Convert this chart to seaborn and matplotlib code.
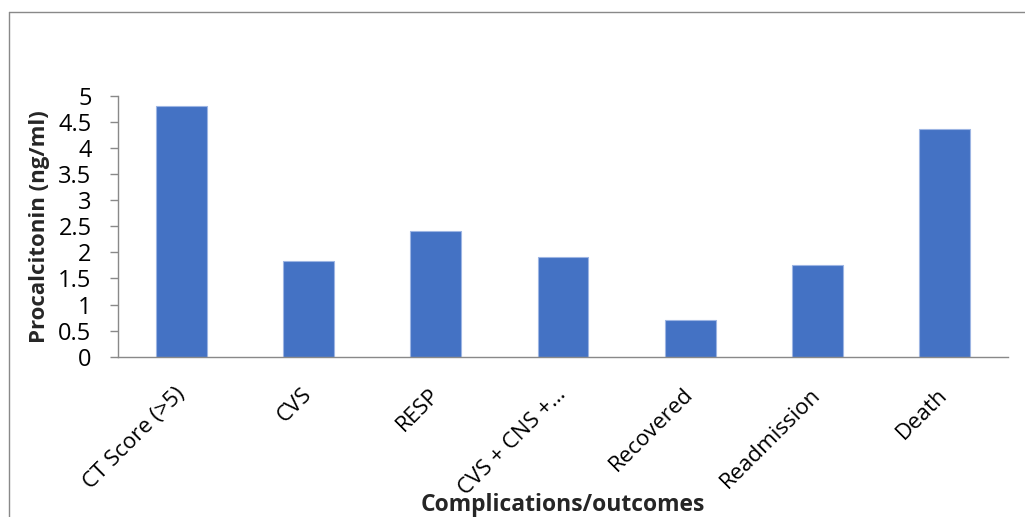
import numpy as np
import matplotlib
matplotlib.use("Agg")
import matplotlib.pyplot as plt
import seaborn as sns
from matplotlib.lines import Line2D
from matplotlib.ticker import FixedLocator, FuncFormatter

categories = ["CT Score (>5)", "CVS", "RESP", "CVS + CNS +…", "Recovered", "Readmission", "Death"]
values = [4.8, 1.84, 2.42, 1.91, 0.70, 1.75, 4.36]
y_ticks = [0, 0.5, 1, 1.5, 2, 2.5, 3, 3.5, 4, 4.5, 5]
y_label = "Procalcitonin (ng/ml)"
x_label = "Complications/outcomes"

sns.set_style("white")
plt.rcParams["font.family"] = ["Open Sans", "DejaVu Sans"]

W, H = 1025, 517
fig = plt.figure(figsize=(W / 100, H / 100), dpi=100)
ax = fig.add_axes([118 / W, 1 - 356.7 / H, (1008 - 118) / W, (356.7 - 96) / H])

sns.barplot(x=categories, y=values, color="#4472C4", saturation=1, width=0.4,
            edgecolor="#9DB5E3", linewidth=0.8, ax=ax)

ax.set_xlim(-0.5, len(categories) - 0.5)
ax.set_ylim(0, 5)
ax.yaxis.set_major_locator(FixedLocator(y_ticks))
ax.yaxis.set_major_formatter(FuncFormatter(lambda v, p: f"{v:g}"))

gray = "#898989"
for s in ["top", "right"]:
    ax.spines[s].set_visible(False)
for s in ["left", "bottom"]:
    ax.spines[s].set_color(gray)
    ax.spines[s].set_linewidth(1.0)

ax.set_xticks(np.arange(-0.5, len(categories), 1), minor=True)
ax.tick_params(axis="x", which="minor", length=6, width=1.0, color=gray, direction="out")
ax.tick_params(axis="x", which="major", length=0, pad=25, labelsize=16, labelcolor="black")
ax.tick_params(axis="y", which="major", length=6, width=1.0, color=gray, direction="out",
               pad=13, labelsize=17, labelcolor="black")
ax.tick_params(left=True, bottom=True)
for lbl in ax.get_xticklabels():
    lbl.set_rotation(45)
    lbl.set_ha("right")
    lbl.set_va("center")
    lbl.set_rotation_mode("anchor")

ax.set_xlabel("")
ax.set_ylabel(y_label, fontsize=16, fontweight="bold")
ax.yaxis.set_label_coords(-(118 - 50) / (1008 - 118), 0.5)

fig.text((118 + 1008) / 2 / W, 6 / H, x_label, ha="center", va="baseline",
         fontsize=16.5, fontweight="bold")

# outer chart border (left and top visible)
fig.add_artist(Line2D([9 / W, 9 / W], [0, 1 - 12 / H], transform=fig.transFigure,
                      color=gray, linewidth=1.0))
fig.add_artist(Line2D([9 / W, 1], [1 - 12 / H, 1 - 12 / H], transform=fig.transFigure,
                      color=gray, linewidth=1.0))

fig.savefig("out.png", dpi=100, facecolor="white")
